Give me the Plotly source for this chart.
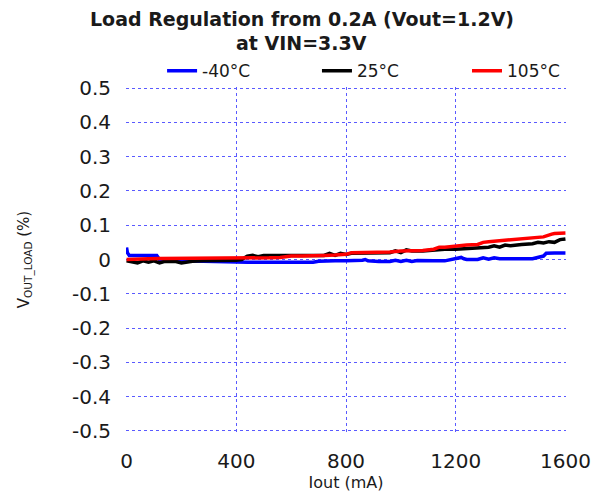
import plotly.graph_objects as go

# -40°C series
blue_x = [0, 3, 10, 40, 80, 110, 120, 160, 200, 240, 280, 320, 360, 400, 440, 480, 520, 560, 600, 640, 680, 700, 720, 760, 800, 840, 860, 870, 880, 920, 960, 980, 1000, 1020, 1040, 1060, 1080, 1120, 1160, 1200, 1220, 1230, 1240, 1280, 1300, 1320, 1340, 1360, 1400, 1440, 1480, 1520, 1530, 1560, 1600]
blue_y = [0.035, 0.02, 0.012, 0.012, 0.01, 0.012, 0.0, -0.004, -0.004, -0.005, -0.005, -0.006, -0.007, -0.008, -0.008, -0.008, -0.008, -0.008, -0.008, -0.008, -0.008, -0.005, -0.004, -0.004, -0.004, -0.004, -0.002, 0.0, -0.004, -0.006, -0.006, -0.002, -0.006, -0.002, -0.006, -0.003, -0.004, -0.004, -0.004, 0.004, 0.006, 0.002, 0.0, 0.0, 0.005, 0.001, 0.005, 0.002, 0.002, 0.002, 0.002, 0.01, 0.018, 0.019, 0.019]

# 25°C series
black_x = [0, 20, 40, 60, 80, 100, 120, 140, 160, 180, 200, 240, 280, 320, 360, 400, 420, 440, 460, 480, 500, 520, 540, 560, 580, 600, 640, 680, 720, 740, 760, 780, 800, 820, 840, 880, 920, 960, 980, 1000, 1020, 1040, 1080, 1120, 1160, 1200, 1240, 1280, 1320, 1340, 1360, 1380, 1400, 1440, 1480, 1500, 1520, 1540, 1560, 1580, 1600]
black_y = [-0.004, -0.006, -0.01, -0.004, -0.008, -0.004, -0.01, -0.005, -0.005, -0.006, -0.01, -0.005, -0.004, -0.004, -0.003, -0.002, 0.0, 0.01, 0.012, 0.008, 0.012, 0.012, 0.012, 0.012, 0.01, 0.01, 0.01, 0.01, 0.012, 0.018, 0.012, 0.018, 0.015, 0.018, 0.018, 0.019, 0.02, 0.02, 0.025, 0.02, 0.028, 0.025, 0.025, 0.028, 0.03, 0.03, 0.032, 0.032, 0.036, 0.04, 0.036, 0.042, 0.04, 0.044, 0.046, 0.05, 0.048, 0.052, 0.05, 0.058, 0.06]

# 105°C series
red_x = [0, 40, 80, 120, 160, 200, 240, 280, 320, 360, 400, 440, 480, 520, 560, 600, 640, 680, 720, 760, 800, 820, 840, 880, 920, 960, 1000, 1040, 1080, 1120, 1140, 1160, 1200, 1240, 1280, 1300, 1320, 1360, 1400, 1440, 1480, 1500, 1520, 1550, 1560, 1600]
red_y = [0.0, 0.002, 0.002, 0.003, 0.003, 0.003, 0.003, 0.003, 0.003, 0.004, 0.004, 0.005, 0.005, 0.005, 0.006, 0.01, 0.01, 0.01, 0.012, 0.013, 0.015, 0.02, 0.02, 0.02, 0.021, 0.022, 0.025, 0.026, 0.026, 0.03, 0.036, 0.036, 0.04, 0.042, 0.044, 0.05, 0.052, 0.055, 0.058, 0.06, 0.062, 0.065, 0.066, 0.074, 0.076, 0.077]

series_names = ["-40°C", "25°C", "105°C"]
series_colors = ["#0000ff", "#000000", "#ff0000"]

x_ticks = [0, 400, 800, 1200, 1600]
y_ticks = [0.5, 0.4, 0.3, 0.2, 0.1, 0, -0.1, -0.2, -0.3, -0.4, -0.5]
y_labels = ["0.5", "0.4", "0.3", "0.2", "0.1", "0", "-0.1", "-0.2", "-0.3", "-0.4", "-0.5"]

title_lines = ["Load Regulation from 0.2A (Vout=1.2V)", "at VIN=3.3V"]

FONT = "DejaVu Sans"
TXT = "#1a1a1a"

legend_ids = ["legend", "legend2", "legend3"]
legend_x = [0.082, 0.434, 0.775]

fig = go.Figure()
for xs, ys, name, col, lg in zip([blue_x, black_x, red_x], [blue_y, black_y, red_y],
                                 series_names, series_colors, legend_ids):
    fig.add_trace(go.Scatter(x=xs, y=ys, mode="lines", name=name, legend=lg, showlegend=True,
                             line=dict(color=col, width=3.5)))

grid = dict(showgrid=True, gridcolor="#5a5aff", griddash="dot", gridwidth=1,
            zeroline=False, showline=False, ticks="", automargin=False)

legend_style = dict(orientation="h", xanchor="left", y=1.046, yanchor="middle",
                    font=dict(family=FONT, size=17, color=TXT),
                    bgcolor="rgba(0,0,0,0)", visible=True)

# page has an 8px body margin, so the figure is sized to fit the 604x495 window
fig.update_layout(
    width=596, height=487, showlegend=True,
    paper_bgcolor="white", plot_bgcolor="white",
    margin=dict(l=118, r=38, t=79, b=63, autoexpand=False),
    font=dict(family=FONT, color=TXT),
    xaxis=dict(range=[-2, 1602], tickvals=x_ticks, ticktext=[str(v) for v in x_ticks],
               tickfont=dict(family=FONT, size=20, color=TXT), ticklabelstandoff=15,
               title=dict(text="Iout (mA)", font=dict(family=FONT, size=16, color=TXT), standoff=4),
               **grid),
    yaxis=dict(range=[-0.503, 0.503], tickvals=y_ticks, ticktext=y_labels,
               tickfont=dict(family=FONT, size=20, color=TXT), ticklabelstandoff=14,
               title=dict(text="V<sub>OUT_LOAD</sub> (%)", font=dict(family=FONT, size=15, color=TXT), standoff=38),
               **grid),
)
for lg, lx in zip(legend_ids, legend_x):
    fig.update_layout({lg: dict(x=lx, **legend_style)})

for line, shift in zip(title_lines, [68, 44]):
    fig.add_annotation(text="<b>" + line + "</b>", xref="paper", yref="paper",
                       x=0.399, y=1.0, yshift=shift, xanchor="center", yanchor="middle",
                       showarrow=False, font=dict(family=FONT, size=19, color=TXT))

fig.write_html("out.html")
